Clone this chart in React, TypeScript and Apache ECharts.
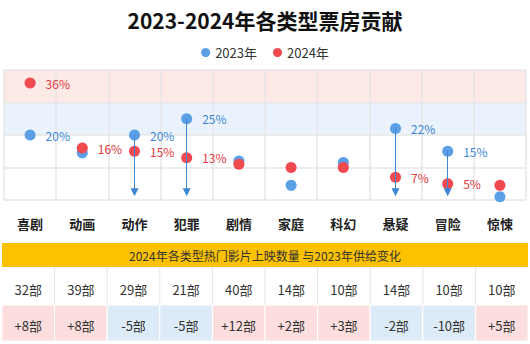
import React, { useEffect, useRef } from "react";
import * as echarts from "echarts";

const categories = ["喜剧", "动画", "动作", "犯罪", "剧情", "家庭", "科幻", "悬疑", "冒险", "惊悚"];
const share2023 = [20, 14.5, 20, 25, 12, 4.5, 11.5, 22, 15, 1];
const share2024 = [36, 16, 15, 13, 11, 10, 10, 7, 5, 4.5];
const show2023Label = [true, false, true, true, false, false, false, true, true, false];
const show2024Label = [true, true, true, true, false, false, false, true, true, false];
const arrowCategories = ["动作", "犯罪", "悬疑", "冒险"];
const filmCounts = [32, 39, 29, 21, 40, 14, 10, 14, 10, 10];
const supplyChange = [8, 8, -5, -5, 12, 2, 3, -2, -10, 5];
const yTicks = [0, 10, 20, 30, 40];

const FONT = "'Noto Sans CJK SC', 'Noto Sans', sans-serif";
const BLUE = "#5b9fe6";
const BLUE_TEXT = "#3d86d6";
const RED = "#f04a50";
const RED_TEXT = "#e03a40";

export default function App() {
  const ref = useRef<HTMLDivElement>(null);
  useEffect(() => {
    if (!ref.current) return;
    const chart = echarts.init(ref.current, undefined, { renderer: "svg" });
    const W = 530;
    const n = categories.length;
    const tableLeft = 2;
    const tableW = W - 4;
    const cellW = tableW / n;
    const bannerTop = 243;
    const bannerH = 24;
    const row1Top = bannerTop + bannerH;
    const row1H = 38;
    const row2Top = row1Top + row1H;
    const row2H = 36;

    const graphics: any[] = [];
    graphics.push({
      type: "rect",
      shape: { x: tableLeft, y: bannerTop, width: tableW, height: bannerH },
      style: { fill: "#fcc200" },
    });
    graphics.push({
      type: "text",
      x: W / 2,
      y: bannerTop + bannerH / 2,
      style: {
        text: "2024年各类型热门影片上映数量 与2023年供给变化",
        fill: "#333",
        font: `12px ${FONT}`,
        align: "center",
        verticalAlign: "middle",
      },
    });
    filmCounts.forEach((c, i) => {
      const x = tableLeft + i * cellW;
      if (i > 0) {
        graphics.push({
          type: "line",
          shape: { x1: x, y1: row1Top, x2: x, y2: row2Top },
          style: { stroke: "#e6e6e6", lineWidth: 1 },
        });
      }
      graphics.push({
        type: "text",
        x: x + cellW / 2,
        y: row1Top + row1H / 2 + 3,
        style: {
          text: `${c}部`,
          fill: "#333",
          font: `13px ${FONT}`,
          align: "center",
          verticalAlign: "middle",
        },
      });
      const d = supplyChange[i];
      graphics.push({
        type: "rect",
        shape: { x: x, y: row2Top, width: cellW, height: row2H },
        style: { fill: d >= 0 ? "#fcdede" : "#ddeaf8", stroke: "#ffffff", lineWidth: 1 },
      });
      graphics.push({
        type: "text",
        x: x + cellW / 2,
        y: row2Top + row2H / 2 + 2,
        style: {
          text: `${d > 0 ? "+" : ""}${d}部`,
          fill: "#333",
          font: `13px ${FONT}`,
          align: "center",
          verticalAlign: "middle",
        },
      });
    });

    chart.setOption({
      animation: false,
      textStyle: { fontFamily: FONT },
      title: {
        text: "2023-2024年各类型票房贡献",
        left: "center",
        top: 4,
        textStyle: { fontSize: 21, fontWeight: "bold", color: "#111", fontFamily: FONT },
      },
      legend: {
        top: 41,
        left: "center",
        icon: "circle",
        itemWidth: 9,
        itemHeight: 9,
        itemGap: 16,
        textStyle: { fontSize: 13, color: "#333", fontFamily: FONT },
        data: ["2023年", "2024年"],
      },
      grid: { left: 4, right: 4, top: 70, height: 130 },
      xAxis: {
        type: "category",
        data: categories,
        boundaryGap: true,
        axisLine: { show: false },
        axisTick: { show: false },
        axisLabel: { margin: 17, fontSize: 13, fontWeight: "bold", color: "#222", fontFamily: FONT },
        splitLine: { show: true, lineStyle: { color: "#e6e6e6", width: 1.5 } },
      },
      yAxis: {
        type: "value",
        min: yTicks[0],
        max: yTicks[yTicks.length - 1],
        interval: 10,
        axisLabel: { show: false },
        axisLine: { show: false },
        axisTick: { show: false },
        splitLine: { show: true, lineStyle: { color: "#e6e6e6", width: 1.5 } },
        splitArea: {
          show: true,
          areaStyle: { color: ["rgba(255,255,255,0)", "rgba(255,255,255,0)", "#eaf3fd", "#fde9e6"] },
        },
      },
      series: [
        {
          name: "2023年",
          type: "scatter",
          symbolSize: 11,
          itemStyle: { color: BLUE, opacity: 1 },
          data: share2023.map((v, i) => ({
            value: v,
            label: {
              show: show2023Label[i],
              position: "right",
              distance: 10,
              formatter: `${v}%`,
              color: BLUE_TEXT,
              fontSize: 12,
              fontFamily: FONT,
            },
          })),
          markLine: {
            silent: true,
            symbol: ["none", "triangle"],
            symbolSize: [8, 8],
            label: { show: false },
            lineStyle: { color: "#3d86d6", width: 1, type: "solid" },
            data: arrowCategories.map((c) => {
              const i = categories.indexOf(c);
              return [{ coord: [c, share2023[i]] }, { coord: [c, 2.4] }];
            }),
          },
        },
        {
          name: "2024年",
          type: "scatter",
          symbolSize: 11,
          itemStyle: { color: RED, opacity: 1 },
          data: share2024.map((v, i) => ({
            value: v,
            label: {
              show: show2024Label[i],
              position: "right",
              distance: 10,
              formatter: `${v}%`,
              color: RED_TEXT,
              fontSize: 12,
              fontFamily: FONT,
            },
          })),
        },
      ],
      graphic: graphics,
    });
    return () => chart.dispose();
  }, []);
  return (
    <div
      ref={ref}
      style={{ position: "absolute", left: 0, top: 0, width: 530, height: 344, background: "#fff" }}
    />
  );
}
